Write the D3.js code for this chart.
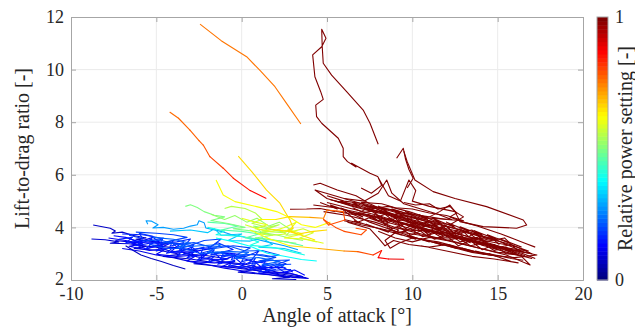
<!DOCTYPE html>
<html>
<head>
<meta charset="utf-8">
<script src="https://cdn.jsdelivr.net/npm/d3@7/dist/d3.min.js"></script>
<style>
  body { margin: 0; background: #fff; }
  svg { display: block; }
</style>
</head>
<body>
<svg id="chart" width="635" height="329"></svg>
<script>
// axis ticks
const xTicks = [-10, -5, 0, 5, 10, 15, 20];
const yTicks = [2, 4, 6, 8, 10, 12];
const cbTicks = [0, 1];

// traces: [angle of attack, lift-to-drag]
const blueDark1 = [[-8.7,4.09],[-7.7,3.97],[-7.4,3.86],[-7.6,3.78],[-7.0,3.82],[-6.4,3.7],[-5.6,3.6],[-6.2,3.55],[-5.0,3.45],[-4.3,3.38],[-5.2,3.3],[-3.8,3.22],[-2.6,3.1],[-3.4,3.0],[-2.0,2.92],[-0.8,2.8],[-1.8,2.75],[0.2,2.6],[1.4,2.42],[0.4,2.4],[2.4,2.22],[3.8,2.08]];
const blueDark2 = [[-8.8,3.56],[-8.0,3.53],[-7.2,3.45],[-7.7,3.4],[-6.6,3.38],[-5.6,3.28],[-6.3,3.2],[-4.8,3.12],[-3.6,2.98],[-4.6,2.9],[-3.0,2.8],[-1.8,2.68],[-2.8,2.62],[-0.8,2.5],[0.6,2.38],[-0.2,2.3],[1.6,2.2],[2.8,2.1],[1.8,2.05],[3.2,2.02]];
const blueDark3 = [[-6.8,3.3],[-6.3,3.1],[-5.9,2.95],[-5.3,2.82],[-4.7,2.7],[-4.0,2.55],[-3.3,2.42]];
const blueDark4 = [[-7.0,3.2],[-6.0,3.1],[-5.0,2.95],[-4.0,2.85],[-3.0,2.7],[-2.0,2.58],[-1.0,2.45],[0.0,2.35],[1.0,2.25],[2.0,2.18],[3.0,2.1],[3.9,2.06],[2.6,2.15],[1.4,2.3],[0.4,2.42],[-0.6,2.55]];
const blueDark5 = [[-7.4,3.5],[-6.6,3.45],[-5.8,3.3],[-5.0,3.25],[-4.2,3.1],[-3.4,3.05],[-2.6,2.88],[-1.8,2.8],[-1.0,2.65],[-0.2,2.6],[0.6,2.45],[1.4,2.4],[2.2,2.28],[3.0,2.22],[3.6,2.12]];
const blueMid1 = [[-7.5,3.68],[-6.8,3.62],[-6.0,3.45],[-5.2,3.62],[-4.6,3.35],[-5.6,3.18],[-6.5,3.42],[-5.0,3.45],[-3.6,3.38],[-4.2,3.05],[-2.8,3.08],[-1.6,3.22],[-2.4,2.8],[-1.0,2.78],[-0.2,2.98],[-1.2,3.05],[0.6,2.72],[1.6,2.62],[0.8,2.46],[2.4,2.48],[3.0,2.3]];
const blueMid2 = [[-7.0,3.75],[-5.8,3.72],[-4.6,3.58],[-5.4,3.36],[-3.8,3.45],[-3.0,3.56],[-3.6,3.12],[-2.0,3.22],[-1.4,3.42],[-0.5,3.16],[-1.8,2.96],[0.2,2.88],[1.0,3.1],[0.4,2.62],[1.8,2.76],[2.6,2.62],[1.4,2.36],[2.9,2.4]];
const blueMid3 = [[-6.2,3.82],[-5.0,3.78],[-4.0,3.72],[-3.2,3.62],[-4.6,3.42],[-3.0,3.32],[-2.2,3.5],[-1.2,3.56],[-2.0,3.16],[-0.5,3.3],[0.5,3.22],[-0.3,2.96],[1.2,2.96],[2.0,2.86],[1.0,2.72],[2.8,2.76],[2.0,2.58],[2.9,2.6]];
const blueMid4 = [[-5.2,3.62],[-4.0,3.55],[-3.0,3.4],[-3.8,3.25],[-2.4,3.3],[-1.2,3.35],[-2.0,3.05],[-0.6,3.08],[0.4,3.05],[-0.4,2.82],[1.0,2.85],[2.2,2.7],[1.2,2.58],[2.5,2.55]];
const blueMid5 = [[-7.8,3.6],[-6.8,3.5],[-5.8,3.38],[-6.6,3.28],[-5.4,3.12],[-4.4,3.2],[-5.0,2.98],[-3.8,2.9],[-2.6,2.95],[-3.2,2.72],[-1.6,2.65],[-0.4,2.7],[-1.2,2.5],[0.4,2.5],[1.8,2.35],[1.0,2.25],[2.6,2.3],[3.6,2.12]];
const blueMid6 = [[-7.2,3.55],[-6.4,3.62],[-6.8,3.4],[-5.8,3.52],[-6.2,3.3],[-5.2,3.42],[-5.6,3.2],[-4.6,3.35],[-5.0,3.1],[-4.0,3.25],[-4.4,3.02],[-3.4,3.15],[-3.8,2.92],[-2.8,3.05],[-3.2,2.85],[-2.2,2.98],[-2.6,2.75],[-1.6,2.9],[-2.0,2.68],[-1.0,2.82],[-1.4,2.6],[-0.4,2.75],[-0.8,2.52],[0.2,2.65],[-0.2,2.45],[0.8,2.58],[0.4,2.38],[1.4,2.5],[1.0,2.3],[2.0,2.4]];
const blueMid7 = [[-6.6,3.7],[-5.8,3.58],[-6.0,3.78],[-5.2,3.66],[-5.4,3.48],[-4.6,3.6],[-4.8,3.38],[-4.0,3.5],[-4.2,3.28],[-3.4,3.42],[-3.6,3.2],[-2.8,3.35],[-3.0,3.12],[-2.2,3.25],[-2.4,3.02],[-1.6,3.15],[-1.8,2.95],[-1.0,3.08],[-1.2,2.86],[-0.4,3.0],[-0.6,2.78],[0.2,2.92],[0.0,2.7],[0.8,2.82],[0.6,2.6],[1.4,2.72],[1.2,2.5],[2.0,2.62],[2.6,2.45]];
const blueMid8 = [[-5.8,3.48],[-4.8,3.52],[-3.8,3.35],[-2.8,3.42],[-1.8,3.25],[-0.8,3.3],[0.2,3.1],[1.2,3.12],[2.2,2.95],[1.6,2.88],[0.6,2.98],[-0.4,2.9],[-1.4,3.05],[-2.4,3.0],[-3.4,3.2],[-4.4,3.2],[-5.4,3.35]];
const blueMid9 = [[-6.5,3.55],[-5.9,3.4],[-5.3,3.55],[-4.7,3.25],[-4.1,3.42],[-3.5,3.1],[-2.9,3.25],[-2.3,2.92],[-1.7,3.08],[-1.1,2.75],[-0.5,2.9],[0.1,2.58],[0.7,2.72],[1.3,2.42],[1.9,2.55],[2.5,2.3],[3.1,2.38],[3.7,2.18]];
const blueLight1 = [[-5.5,4.12],[-5.6,4.25],[-5.3,4.24],[-4.9,4.1],[-5.2,3.98],[-4.6,4.0],[-4.0,3.93],[-3.4,3.97],[-3.0,4.05],[-2.6,4.1],[-2.5,4.25],[-2.2,4.18],[-2.1,3.98],[-1.2,3.85],[-0.5,3.7],[0.5,3.6],[1.5,3.45],[2.5,3.3],[3.3,3.15]];
const blueLight2 = [[-4.2,3.86],[-3.0,3.9],[-2.0,3.8],[-1.6,3.95],[-1.2,3.7],[0.0,3.75],[-0.8,3.5],[0.5,3.48],[1.2,3.6],[1.8,3.35],[1.0,3.25],[2.5,3.2],[3.5,3.02]];
const cyan1 = [[-2.0,4.0],[-1.0,3.86],[-1.5,3.72],[0.0,3.66],[1.0,3.45],[0.5,3.32],[2.0,3.22],[3.0,3.06],[3.7,2.95]];
const cyan2 = [[-1.5,3.6],[-0.5,3.46],[0.5,3.28],[1.5,3.02],[2.5,2.9],[3.5,2.78],[4.4,2.72]];
const green1 = [[-3.3,4.8],[-3.0,4.86],[-2.6,4.76],[-2.2,4.6],[-1.6,4.46],[-1.0,4.4],[-1.8,4.26],[-0.8,4.15],[0.2,4.0],[-0.5,3.95],[0.8,3.85],[1.8,3.7],[0.8,3.6],[2.0,3.5],[3.2,3.4]];
const green2 = [[-1.0,4.72],[-0.6,4.8],[0.2,4.72],[0.8,4.55],[1.2,4.3],[0.6,4.16],[1.5,4.0],[2.2,4.1],[1.2,3.86],[2.5,3.8],[3.0,3.95],[2.6,3.7],[3.5,3.74]];
const green3 = [[-2.0,4.2],[-1.0,4.15],[-0.2,4.05],[-1.2,3.9],[0.0,3.85],[1.0,3.75],[0.2,3.6],[1.6,3.55],[2.6,3.45],[3.6,3.3]];
const green4 = [[-1.8,4.5],[-1.0,4.3],[-0.4,4.45],[0.3,4.2],[0.9,4.35],[1.6,4.05],[2.2,4.2],[2.9,3.9],[2.3,3.85],[1.5,3.95],[0.7,4.05],[1.2,3.8],[2.0,3.72],[2.8,3.6],[3.6,3.5]];
const yellowGreen = [[0.0,4.35],[0.8,4.2],[1.5,4.1],[0.8,3.95],[1.8,3.85],[2.5,4.0],[3.2,4.2],[2.8,3.9],[3.6,3.75],[2.5,3.6],[3.8,3.55],[4.8,3.4]];
const yellowGreen2 = [[0.2,4.1],[0.9,3.95],[1.6,3.85],[1.0,3.75],[1.8,3.7],[2.6,3.75],[2.2,3.9],[3.0,3.85],[3.6,3.95],[4.2,3.8],[3.4,3.6],[4.4,3.45]];

const redTall = [[8.0,5.93],[7.52,6.06],[6.44,6.44],[6.7,6.3],[6.2,6.5],[5.95,6.69],[5.95,7.01],[5.66,7.39],[4.69,7.96],[4.39,8.21],[4.34,8.65],[4.78,8.87],[4.63,9.16],[4.29,9.73],[4.16,10.56],[4.69,10.87],[4.94,11.19],[4.69,11.53],[4.72,10.87],[4.78,10.24],[5.27,9.79],[6.15,9.16],[7.12,8.46],[7.52,7.96],[8.0,7.16]];
const redSpike = [[9.08,6.63],[9.47,7.01],[9.6,6.6],[9.8,6.2],[10.05,5.87],[9.7,5.5]];
const redLoop = [[9.5,6.9],[9.7,6.5],[10.15,5.8],[11.22,5.36],[12.5,5.1],[14.35,4.79],[16.5,4.28],[16.7,4.09],[16.11,3.97],[14.15,4.03],[12.79,4.22],[12.5,4.6],[12.2,4.85],[11.6,4.6],[11.0,4.4]];
const redLow = [[2.83,4.69],[3.8,4.7],[4.6,4.72],[5.5,4.6]];
const red1 = [[4.2,5.61],[4.6,5.68],[5.6,5.42],[6.7,5.2],[7.5,4.9],[8.5,4.6],[9.5,4.35],[8.0,4.55],[6.5,4.8],[5.0,5.1],[4.3,5.42],[5.2,5.25],[6.8,4.95],[8.8,4.5],[10.5,4.2],[12.0,3.9],[13.5,3.6],[15.0,3.3],[16.5,3.0],[17.2,2.82]];
const red2 = [[4.2,4.85],[5.5,4.75],[7.0,4.55],[8.5,4.3],[10.0,4.05],[11.5,3.8],[10.2,3.9],[8.8,4.15],[7.5,4.35],[9.0,4.0],[10.8,3.7],[12.5,3.45],[14.0,3.2],[15.5,2.95],[16.9,2.57],[16.4,2.9],[15.0,3.15],[13.2,3.5],[11.5,3.9],[10.0,4.25]];
const red3 = [[4.8,4.6],[6.2,4.45],[7.8,4.2],[9.2,3.9],[8.4,3.5],[8.7,3.21],[9.2,3.4],[10.0,3.6],[11.5,3.45],[13.0,3.2],[14.5,2.95],[16.0,2.85],[17.3,2.95],[15.8,3.15],[14.0,3.45],[12.5,3.7],[11.0,4.0],[9.5,4.3],[8.0,4.6],[6.5,4.9]];
const red4 = [[5.5,5.0],[7.0,4.75],[8.5,4.55],[9.8,4.4],[11.0,4.2],[12.5,3.95],[14.0,3.65],[15.5,3.4],[16.8,3.1],[15.2,3.25],[13.8,3.45],[12.2,3.7],[10.8,3.95],[9.3,4.2],[7.8,4.4],[6.2,4.6],[7.5,4.2],[9.0,3.85],[10.5,3.55],[12.0,3.3],[13.5,3.05],[15.0,2.9]];
const red5 = [[6.0,5.1],[7.2,5.0],[8.0,5.3],[8.5,5.8],[8.8,5.3],[9.5,4.9],[10.5,4.7],[11.5,4.5],[12.3,4.3],[11.0,4.35],[9.8,4.6],[8.6,4.8],[7.5,4.7],[9.0,4.45],[10.5,4.15],[12.0,3.95],[13.5,3.75],[14.8,3.55],[13.0,3.6],[11.5,3.6],[10.0,3.75],[8.5,3.9],[7.0,4.1],[6.0,4.25]];
const red6 = [[7.0,5.5],[7.6,5.3],[8.2,5.6],[8.0,5.9],[8.6,5.2],[9.3,5.0],[9.8,5.8],[10.2,5.4],[10.0,5.0],[11.0,4.8],[12.5,4.6],[13.0,4.4],[12.2,4.1],[11.0,4.25],[9.7,4.45],[8.3,4.7],[7.2,4.9],[6.0,5.0],[5.0,5.2]];
const red7 = [[6.2,4.2],[7.5,3.95],[8.0,3.6],[8.4,3.3],[8.9,3.5],[9.8,3.35],[11.0,3.25],[12.0,3.35],[13.3,3.1],[14.5,3.0],[15.8,2.7],[16.2,2.65],[14.8,2.8],[13.5,2.9],[12.0,3.1],[10.5,3.3]];
const red8 = [[5.0,4.95],[6.5,4.7],[8.0,4.45],[9.5,4.15],[11.0,3.85],[12.5,3.6],[14.0,3.4],[15.5,3.2],[16.6,3.05],[15.0,3.5],[13.5,3.8],[12.0,4.05],[10.5,4.35],[9.0,4.65],[7.6,4.8],[9.2,4.3],[10.8,4.05],[12.4,3.8],[14.2,3.5],[15.8,3.3]];
const red9 = [[4.6,4.95],[5.6,4.7],[5.2,4.85],[6.3,4.6],[5.9,4.72],[7.1,4.4],[6.7,4.55],[7.9,4.3],[7.4,4.5],[8.6,4.2],[8.2,4.38],[9.4,4.05],[9.0,4.25],[10.2,3.95],[9.8,4.12],[11.0,3.8],[10.6,4.0],[11.8,3.68],[11.4,3.85],[12.6,3.55],[12.2,3.72],[13.4,3.42],[13.0,3.6],[14.2,3.3],[13.8,3.45],[15.0,3.18],[14.6,3.32],[15.8,3.05],[15.4,3.2],[16.6,2.92]];
const red10 = [[5.2,5.05],[6.2,4.9],[5.8,5.0],[6.9,4.8],[6.5,4.95],[7.7,4.72],[7.2,4.85],[8.5,4.65],[8.0,4.8],[9.3,4.55],[8.8,4.7],[10.1,4.45],[9.6,4.6],[10.9,4.3],[10.4,4.48],[11.7,4.15],[11.2,4.35],[12.5,4.0],[12.0,4.2],[13.3,3.85],[12.8,4.02],[14.1,3.7],[13.6,3.88],[14.9,3.55],[14.4,3.72],[15.7,3.4],[15.2,3.55],[16.4,3.25]];
const red11 = [[6.0,4.3],[7.0,4.15],[6.6,4.25],[7.8,4.0],[7.3,4.12],[8.6,3.82],[8.1,3.95],[9.4,3.7],[8.9,3.82],[10.2,3.55],[9.7,3.7],[11.0,3.45],[10.5,3.58],[11.8,3.32],[11.3,3.45],[12.6,3.2],[12.1,3.35],[13.4,3.08],[12.9,3.22],[14.2,2.98],[13.7,3.1],[15.0,2.9],[14.5,3.0],[15.8,2.82],[16.5,2.75]];
const red12 = [[5.5,4.62],[6.6,4.48],[7.6,4.62],[8.4,4.3],[9.6,4.45],[10.4,4.0],[11.6,4.15],[12.3,3.75],[13.5,3.9],[14.2,3.45],[15.4,3.6],[16.2,3.1],[17.0,3.0],[15.8,3.35],[14.8,3.2],[13.8,3.62],[12.8,3.45],[11.8,3.95],[10.8,3.7],[9.8,4.2],[8.8,3.95],[7.8,4.45],[6.8,4.2],[5.8,4.75]];
const red13 = [[7.0,4.95],[8.2,4.9],[9.0,4.75],[10.0,4.7],[11.0,4.55],[12.0,4.45],[13.0,4.25],[12.0,4.3],[11.0,4.4],[10.0,4.5],[9.0,4.55],[10.5,4.3],[11.5,4.05],[10.2,4.1],[9.2,4.35],[8.0,4.6],[7.2,4.7]];
const red14 = [[8.0,3.85],[9.0,3.6],[10.0,3.45],[11.0,3.62],[12.0,3.5],[13.0,3.35],[14.0,3.2],[15.0,3.05],[16.0,3.0],[17.0,2.82],[16.2,2.95],[15.0,3.28],[14.0,3.38],[13.0,3.62],[12.0,3.78],[11.0,3.9],[10.0,3.88],[9.0,4.0]];
const red15 = [[6.5,4.75],[7.0,4.6],[7.4,4.75],[7.9,4.55],[8.3,4.7],[8.8,4.4],[9.2,4.55],[9.7,4.25],[10.1,4.4],[10.6,4.1],[11.0,4.25],[11.5,3.95],[11.9,4.1],[12.4,3.8],[12.8,3.95],[13.3,3.65],[13.7,3.8],[14.2,3.5],[14.6,3.62],[15.1,3.35]];
const red16 = [[9.5,4.95],[10.2,4.85],[11.0,4.9],[11.5,4.7],[12.2,4.8],[12.6,4.55],[12.2,4.4],[13.0,4.2],[13.8,4.05],[14.5,3.9],[15.2,3.75],[16.0,3.55],[16.6,3.4],[17.2,3.25]];
const red17 = [[7.2,4.5],[7.8,4.35],[8.4,4.5],[9.0,4.2],[9.6,4.35],[10.2,4.05],[10.8,4.2],[11.4,3.9],[12.0,4.05],[12.6,3.7],[13.2,3.85],[13.8,3.55],[13.2,3.5],[12.6,3.85],[12.0,3.65],[11.4,4.0],[10.8,3.8],[10.2,4.2],[9.6,3.95],[9.0,4.35],[8.4,4.1],[7.8,4.55]];
const red18 = [[8.5,4.0],[9.2,3.8],[9.9,3.95],[10.6,3.65],[11.3,3.78],[12.0,3.5],[12.7,3.6],[13.4,3.3],[14.1,3.4],[14.8,3.12],[15.5,3.25],[16.2,2.95],[15.5,3.0],[14.8,3.35],[14.1,3.15],[13.4,3.5],[12.7,3.3],[12.0,3.7],[11.3,3.55],[10.6,3.9],[9.9,3.7],[9.2,4.05]];

const yellowA = [[-0.2,6.71],[0.59,6.12],[1.46,5.42],[2.24,4.92],[2.83,4.28],[3.02,3.97],[2.7,3.9],[3.3,3.75],[4.2,3.85],[5.0,3.9]];
const yellowB = [[-1.5,5.8],[-1.08,5.23],[-0.39,4.98],[0.88,4.79],[2.05,4.6],[2.9,4.35],[3.5,4.1],[4.3,4.0],[5.2,4.2]];
const yellowC = [[1.5,3.95],[2.8,3.84],[3.5,3.7],[4.3,3.52]];
const orangeHigh = [[-2.44,11.73],[-1.2,11.1],[0.29,10.49],[1.1,9.95],[1.95,9.35],[2.7,8.65],[3.47,7.93]];
const orangeMid = [[-4.2,8.38],[-3.7,8.15],[-3.03,7.7],[-2.5,7.3],[-2.25,7.13],[-1.86,6.69],[-1.08,6.25],[-0.49,5.87],[0.5,5.4],[1.42,5.11]];
const orangeMidPower = [0.77,0.77,0.78,0.78,0.79,0.8,0.82,0.84,0.86,0.88];
const orangeLow = [[0.5,3.9],[1.5,3.6],[2.8,3.3],[4.5,3.2],[6.0,3.1],[6.8,3.08],[7.7,2.95],[8.2,3.12],[8.0,2.85],[8.6,2.8],[9.5,2.79]];
const orangeLowPower = [0.6,0.62,0.64,0.68,0.74,0.78,0.82,0.85,0.87,0.88,0.9];
const orangeLoop = [[1.0,4.3],[2.0,4.3],[2.8,4.41],[4.0,4.38],[4.8,4.35],[5.0,4.66],[5.95,4.6],[6.05,4.28],[5.1,4.09],[4.8,4.3],[5.5,4.0],[6.0,3.85],[7.0,3.72],[7.3,3.9],[6.7,3.97]];
const orangeLoopPower = [0.62,0.64,0.66,0.7,0.74,0.77,0.79,0.8,0.8,0.8,0.8,0.8,0.8,0.8,0.8];

// draw order, each with its power setting
const traces = [
  { pts: blueDark3, power: 0.06 }, { pts: blueDark1, power: 0.07 }, { pts: blueDark2, power: 0.08 },
  { pts: blueDark5, power: 0.09 }, { pts: blueDark4, power: 0.1 },
  { pts: blueMid5, power: 0.11 }, { pts: blueMid1, power: 0.13 }, { pts: blueMid9, power: 0.14 }, { pts: blueMid6, power: 0.15 },
  { pts: blueMid2, power: 0.16 }, { pts: blueMid7, power: 0.17 },
  { pts: blueMid3, power: 0.19 }, { pts: blueMid8, power: 0.2 }, { pts: blueMid4, power: 0.22 },
  { pts: blueLight1, power: 0.28 }, { pts: blueLight2, power: 0.32 },
  { pts: cyan2, power: 0.38 }, { pts: cyan1, power: 0.4 },
  { pts: green3, power: 0.46 }, { pts: green1, power: 0.5 }, { pts: green4, power: 0.52 }, { pts: green2, power: 0.55 },
  { pts: yellowGreen2, power: 0.58 }, { pts: yellowGreen, power: 0.6 },
  { pts: redTall, power: 1 }, { pts: redSpike, power: 1 }, { pts: redLoop, power: 1 }, { pts: redLow, power: 1 },
  { pts: red1, power: 1 }, { pts: red2, power: 1 }, { pts: red3, power: 1 }, { pts: red4, power: 1 },
  { pts: red5, power: 1 }, { pts: red6, power: 1 }, { pts: red7, power: 1 }, { pts: red8, power: 1 },
  { pts: red9, power: 1 }, { pts: red10, power: 1 }, { pts: red11, power: 1 }, { pts: red12, power: 1 },
  { pts: red13, power: 1 }, { pts: red14, power: 1 }, { pts: red15, power: 1 }, { pts: red16, power: 1 },
  { pts: red17, power: 1 }, { pts: red18, power: 1 },
  { pts: yellowB, power: 0.62 }, { pts: yellowC, power: 0.65 }, { pts: yellowA, power: 0.66 },
  { pts: orangeLow, power: orangeLowPower }, { pts: orangeLoop, power: orangeLoopPower },
  { pts: orangeHigh, power: 0.76 }, { pts: orangeMid, power: orangeMidPower }
];

// MATLAB jet colormap
function jet(t) {
  const c = v => Math.max(0, Math.min(1, v));
  return d3.rgb(c(1.5 - Math.abs(4 * t - 3)) * 255, c(1.5 - Math.abs(4 * t - 2)) * 255, c(1.5 - Math.abs(4 * t - 1)) * 255).formatHex();
}
const color = d3.scaleSequential(jet).domain([0, 1]);

const margin = { left: 71, right: 52, top: 17, bottom: 49 };
const width = 635 - margin.left - margin.right;
const height = 329 - margin.top - margin.bottom;
const textColor = "#262626";
const axisColor = "#a6a6a6";
const serif = '"Liberation Serif", "Times New Roman", serif';

const svg = d3.select("#chart");
const g = svg.append("g").attr("transform", `translate(${margin.left},${margin.top})`);

const x = d3.scaleLinear().domain([-10, 20]).range([0, width]);
const y = d3.scaleLinear().domain([2, 12]).range([height, 0]);

// grid
g.append("g").selectAll("line").data(xTicks.slice(1, -1)).enter().append("line")
  .attr("x1", d => x(d)).attr("x2", d => x(d)).attr("y1", 0).attr("y2", height)
  .attr("stroke", "#ebebeb").attr("stroke-width", 1);
g.append("g").selectAll("line").data(yTicks.slice(1, -1)).enter().append("line")
  .attr("x1", 0).attr("x2", width).attr("y1", d => y(d)).attr("y2", d => y(d))
  .attr("stroke", "#ebebeb").attr("stroke-width", 1);

// data
svg.append("defs").append("clipPath").attr("id", "plotClip")
  .append("rect").attr("width", width).attr("height", height);
const plot = g.append("g").attr("clip-path", "url(#plotClip)");
const line = d3.line().x(d => x(d[0])).y(d => y(d[1]));

traces.forEach(t => {
  if (Array.isArray(t.power)) {
    const segs = d3.pairs(t.pts.map((p, i) => [p[0], p[1], t.power[i]]));
    plot.append("g").selectAll("line").data(segs).enter().append("line")
      .attr("x1", d => x(d[0][0])).attr("y1", d => y(d[0][1]))
      .attr("x2", d => x(d[1][0])).attr("y2", d => y(d[1][1]))
      .attr("stroke", d => color((d[0][2] + d[1][2]) / 2))
      .attr("stroke-width", 1.1).attr("stroke-linecap", "round");
  } else {
    plot.append("path").datum(t.pts)
      .attr("fill", "none").attr("stroke", color(t.power))
      .attr("stroke-width", 1.1).attr("stroke-linejoin", "round").attr("d", line);
  }
});

// axes (MATLAB style box, ticks inside)
const tickLen = 5;
const xAxis = g.append("g").attr("transform", `translate(0,${height})`)
  .call(d3.axisBottom(x).tickValues(xTicks).tickSize(-tickLen).tickPadding(7).tickFormat(d3.format("d")));
const xAxisTop = g.append("g")
  .call(d3.axisTop(x).tickValues(xTicks).tickSize(-tickLen).tickFormat(""));
const yAxis = g.append("g")
  .call(d3.axisLeft(y).tickValues(yTicks).tickSize(-tickLen).tickPadding(7).tickFormat(d3.format("d")));
const yAxisRight = g.append("g").attr("transform", `translate(${width},0)`)
  .call(d3.axisRight(y).tickValues(yTicks).tickSize(-tickLen).tickFormat(""));

[xAxis, xAxisTop, yAxis, yAxisRight].forEach(a => {
  a.selectAll("path").attr("stroke", axisColor);
  a.selectAll("line").attr("stroke", axisColor);
  a.selectAll("text").attr("fill", textColor).style("font-size", "18px");
});
xAxis.selectAll("text").text(d => d < 0 ? "-" + Math.abs(d) : d);
yAxis.selectAll("text").attr("dy", d => d === 2 ? "0.25em" : "0.32em");

g.append("text").attr("x", 266).attr("y", height + 42)
  .attr("text-anchor", "middle").attr("fill", textColor).style("font-size", "20px")
  .text("Angle of attack [°]");
g.append("text").attr("transform", `translate(-42,${height / 2}) rotate(-90)`)
  .attr("text-anchor", "middle").attr("fill", textColor).style("font-size", "20px")
  .text("Lift-to-drag ratio [-]");

// colorbar
const cbX = 597, cbW = 11;
const cbY = d3.scaleLinear().domain([0, 1]).range([margin.top + height, margin.top]);
const levels = d3.range(64).map(i => i / 63);
const cb = svg.append("g");
cb.selectAll("rect").data(levels).enter().append("rect")
  .attr("x", cbX).attr("width", cbW)
  .attr("y", (d, i) => cbY((i + 1) / 64))
  .attr("height", (d, i) => cbY(i / 64) - cbY((i + 1) / 64) + 0.5)
  .attr("fill", d => color(d));
cb.append("rect").attr("x", cbX).attr("y", margin.top).attr("width", cbW).attr("height", height)
  .attr("fill", "none").attr("stroke", axisColor).attr("stroke-width", 1);
cb.selectAll("text.cbtick").data(cbTicks).enter().append("text").attr("class", "cbtick")
  .attr("x", cbX + cbW + 7).attr("y", d => cbY(d)).attr("dy", "0.35em")
  .attr("fill", textColor).style("font-size", "18px").text(d => d);
svg.append("text").attr("transform", `translate(632,${margin.top + height / 2}) rotate(-90)`)
  .attr("text-anchor", "middle").attr("fill", textColor).style("font-size", "20px")
  .text("Relative power setting [-]");

// serif font on every label
svg.selectAll("text").style("font-family", serif);
</script>
</body>
</html>
